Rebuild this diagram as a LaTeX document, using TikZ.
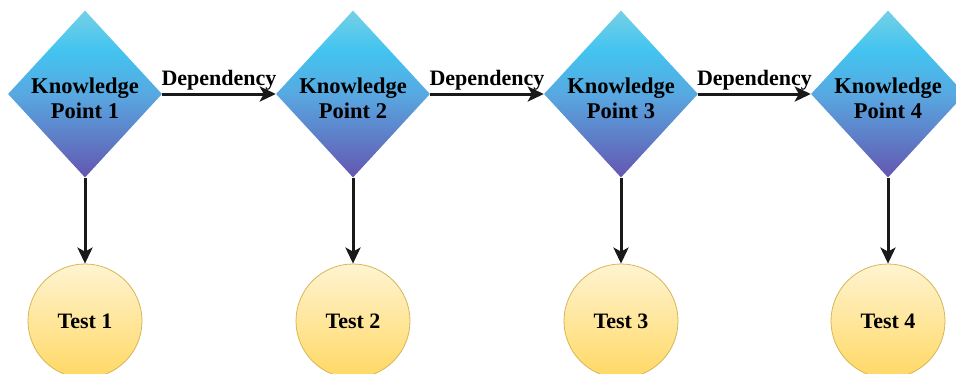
\documentclass[tikz,border=0pt]{standalone}
\usepackage{fontspec}
\setmainfont{Liberation Serif}[BoldFont={Liberation Serif Bold}]
\usetikzlibrary{shapes.geometric,arrows.meta}
\definecolor{kptop}{RGB}{118,208,230}
\definecolor{kpbright}{RGB}{66,196,240}
\definecolor{kpmid}{RGB}{88,168,225}
\definecolor{kpbot}{RGB}{100,86,176}
\definecolor{tsttop}{RGB}{255,244,210}
\definecolor{tstbot}{RGB}{255,216,100}
\definecolor{tstline}{RGB}{214,182,86}
\pgfdeclareverticalshading{kpshade}{100bp}{color(0bp)=(kpbot); color(25bp)=(kpbot); color(50bp)=(kpmid); color(63bp)=(kpbright); color(75bp)=(kptop); color(100bp)=(kptop)}
\begin{document}
\begin{tikzpicture}[x=1pt,y=-1pt,
  kp/.style={diamond, shading=kpshade, draw=none, minimum width=154pt, minimum height=167pt, inner sep=0pt},
  kptext/.style={font=\rmfamily\bfseries\fontsize{22.5}{25}\selectfont, align=center, text=black},
  tst/.style={circle, top color=tsttop, bottom color=tstbot, draw=tstline, line width=0.8pt, minimum size=114pt, inner sep=0pt, font=\rmfamily\bfseries\fontsize{22}{25}\selectfont},
  dep/.style={-{Stealth[length=16pt,width=15pt,inset=4pt]}, line width=3pt, black!90},
  deplabel/.style={font=\rmfamily\bfseries\fontsize{22}{24}\selectfont, above, inner sep=2pt, text=black}]
\useasboundingbox (0,0) rectangle (956,373);
\clip (0,0) rectangle (956,373);
\foreach \i/\x in {1/85,2/353,3/621,4/888}{
  \node[kp] (k\i) at (\x,94) {};
  \node[kptext] (kt\i) at (\x,98) {Knowledge\\Point \i};
  \node[tst] (t\i) at (\x,321) {Test \i};
  \draw[dep] (k\i.south) -- (t\i.north);
}
\draw[dep] (k1.east) -- node[deplabel] (d1) {Dependency} (k2.west);
\draw[dep] (k2.east) -- node[deplabel] (d2) {Dependency} (k3.west);
\draw[dep] (k3.east) -- node[deplabel] (d3) {Dependency} (k4.west);
\end{tikzpicture}
\end{document}
